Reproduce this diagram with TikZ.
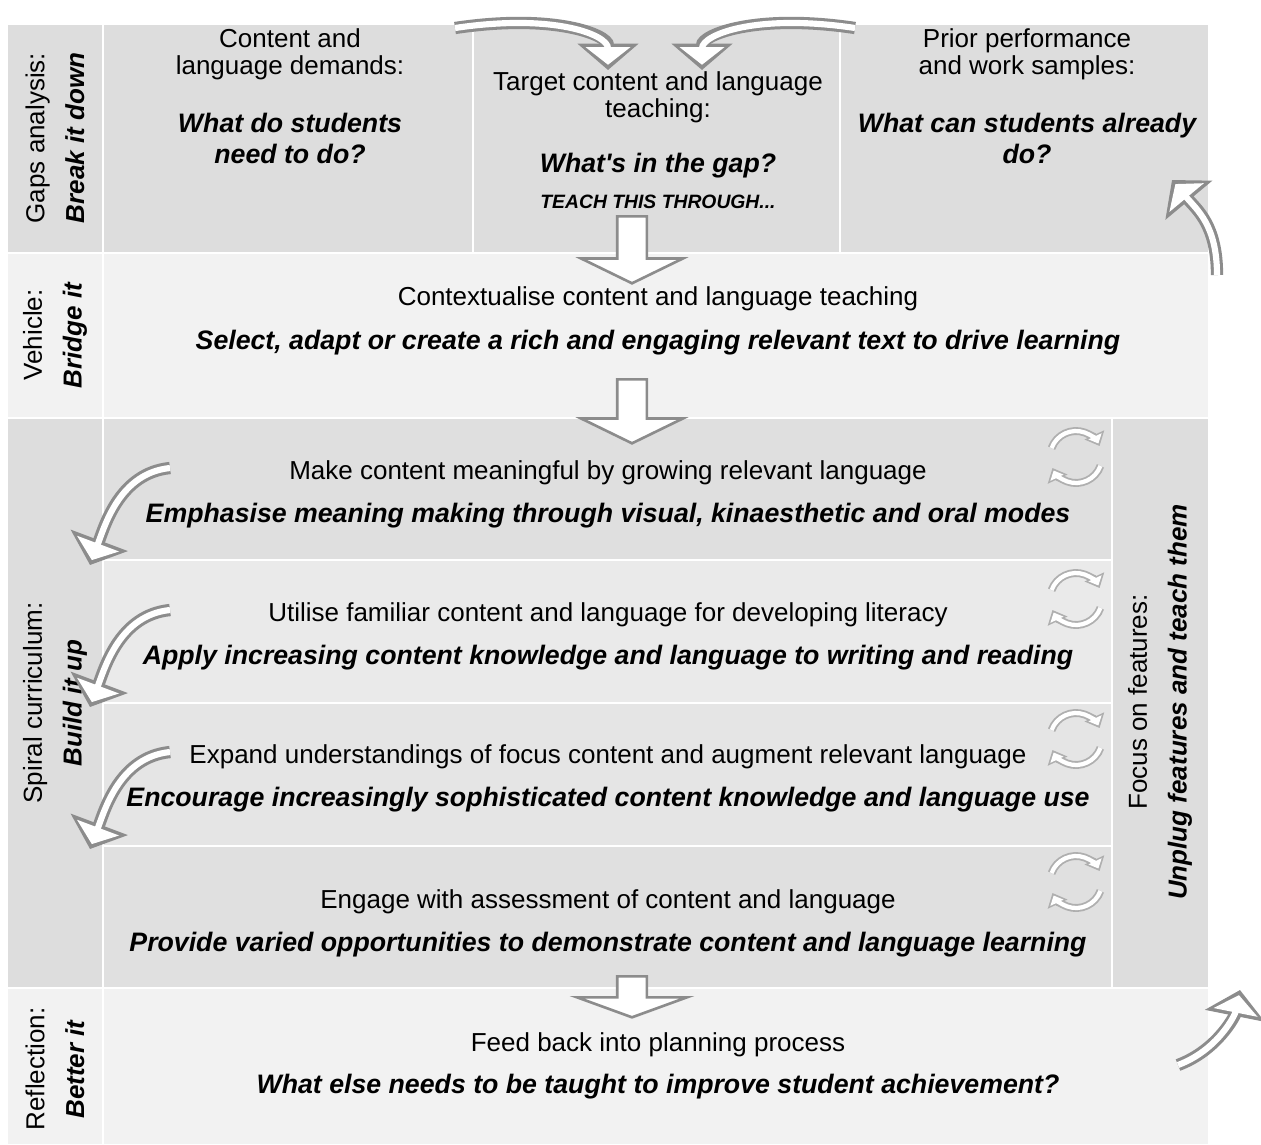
\documentclass[tikz,border=0pt]{standalone}
\usepackage{fontspec}
\setmainfont{Liberation Sans}
\usetikzlibrary{positioning}
\usetikzlibrary{shapes.arrows}
\usetikzlibrary{arrows.meta}

\definecolor{gapgray}{HTML}{DDDDDD}
\definecolor{lightrow}{HTML}{F2F2F2}
\definecolor{rowa}{HTML}{DFDFDF}
\definecolor{rowb}{HTML}{EAEAEA}
\definecolor{rowc}{HTML}{E5E5E5}
\definecolor{rowd}{HTML}{E0E0E0}
\definecolor{rimgray}{HTML}{8C8C8C}

\tikzset{
  rim/.style    = {draw=rimgray, line width=7pt, -{Triangle[width=34pt,length=15pt]}},
  core/.style   = {draw=white, line width=3.5pt, shorten >=3pt, -{Triangle[width=25pt,length=10pt]}},
  thinrim/.style  = {draw=rimgray!70, line width=4.5pt, -{Triangle[width=12pt,length=7pt]}},
  thincore/.style = {draw=white, line width=2.4pt, shorten >=1.6pt, -{Triangle[width=8pt,length=4.5pt]}},
}

\newcommand{\bentarrow}[4]{%
  \draw[rim]  (#1) .. controls +(#2) and +(#3) .. (#4);
  \draw[core] (#1) .. controls +(#2) and +(#3) .. (#4);}

\begin{document}
\begin{tikzpicture}
  [
    x=0.02cm, y=-0.02cm,
    every node/.style={inner sep=0pt},
    plain/.style = {font=\fontsize{14.8}{15.3}\selectfont, align=center},
    ask/.style   = {font=\fontsize{15.2}{17.6}\selectfont\bfseries\itshape, align=center},
    tag/.style   = {font=\fontsize{11}{13}\selectfont\bfseries\itshape},
    side/.style  = {rotate=90, align=center, font=\fontsize{14.8}{22.7}\selectfont},
    grid/.style  = {draw=white, line width=1.2pt},
    blockarr/.style = {single arrow, draw=rimgray, fill=white, line width=1.5pt,
      rotate=-90, anchor=tail, inner xsep=0pt, inner ysep=0.27cm,
      single arrow head extend=0.72cm, single arrow tip angle=128},
  ]

  \useasboundingbox (0,0) rectangle (1261,1144);
  \fill[white] (0,0) rectangle (1261,1144);

  % the cells
  \fill[gapgray]  (8,25) rectangle (1208,253);
  \fill[lightrow] (8,253) rectangle (1208,418);
  \fill[gapgray]  (8,418) rectangle (103,988);
  \fill[rowa]     (103,418) rectangle (1112,560);
  \fill[rowb]     (103,560) rectangle (1112,703);
  \fill[rowc]     (103,703) rectangle (1112,846);
  \fill[rowd]     (103,846) rectangle (1112,988);
  \fill[gapgray]  (1112,418) rectangle (1208,988);
  \fill[lightrow] (8,988) rectangle (1208,1144);

  \draw[grid] (103,25) -- (103,1144);
  \draw[grid] (473,25) -- (473,253);
  \draw[grid] (840,25) -- (840,253);
  \draw[grid] (1112,418) -- (1112,988);
  \draw[grid] (8,253) -- (1208,253);
  \draw[grid] (8,418) -- (1208,418);
  \foreach \yy in {560,703,846} \draw[grid] (103,\yy) -- (1112,\yy);
  \draw[grid] (8,988) -- (1208,988);

  % side labels
  \node[side] (gaps)    at (55,138)  {Gaps analysis:\\\textbf{\textit{Break it down}}};
  \node[side] (vehicle) at (55,335)  {Vehicle:\\\textbf{\textit{Bridge it}}};
  \node[side] (spiral)  at (55,703)  {Spiral curriculum:\\\textbf{\textit{Build it up}}};
  \node[side] (reflect) at (55,1069) {Reflection:\\\textbf{\textit{Better it}}};
  \node[side] (focus)   at (1160,702) {Focus on features:\\\textbf{\textit{Unplug features and teach them}}};

  % gaps analysis
  \node[plain] (demand) at (290,54)  {Content and\\language demands:};
  \node[ask]   (need)   at (290,138) {What do students\\need to do?};
  \node[plain] (target) at (658,97)  {Target content and language\\teaching:};
  \node[ask]   (gap)    at (658,166) {What\textquotesingle s in the gap?};
  \node[tag]   (teach)  at (658,202) {TEACH THIS THROUGH...};
  \node[plain] (prior)  at (1027,54)  {Prior performance\\and work samples:};
  \node[ask]   (can)    at (1027,138) {What can students already\\do?};

  % vehicle
  \node[plain] (context) at (658,299) {Contextualise content and language teaching};
  \node[ask]   (select)  at (658,343) {Select, adapt or create a rich and engaging relevant text to drive learning};

  % spiral curriculum
  \node[plain] (mean)   at (608,473) {Make content meaningful by growing relevant language};
  \node[ask]   (modes)  at (608,516) {Emphasise meaning making through visual, kinaesthetic and oral modes};
  \node[plain] (util)   at (608,615) {Utilise familiar content and language for developing literacy};
  \node[ask]   (apply)  at (608,658) {Apply increasing content knowledge and language to writing and reading};
  \node[plain] (expand) at (608,757) {Expand understandings of focus content and augment relevant language};
  \node[ask]   (soph)   at (608,800) {Encourage increasingly sophisticated content knowledge and language use};
  \node[plain] (engage) at (608,902) {Engage with assessment of content and language};
  \node[ask]   (varied) at (608,945) {Provide varied opportunities to demonstrate content and language learning};

  % reflection
  \node[plain] (feed)    at (658,1045) {Feed back into planning process};
  \node[ask]   (improve) at (658,1087) {What else needs to be taught to improve student achievement?};

  % block arrows down the middle
  \node[blockarr, minimum height=1.34cm] (down1) at (632,215) {};
  \node[blockarr, minimum height=1.28cm] (down2) at (632,378) {};
  \node[blockarr, minimum height=0.82cm, single arrow tip angle=140,
        single arrow head extend=0.8cm] (down3) at (632,975) {};

  % bent arrows
  \coordinate (tlin)  at (455,28);   \coordinate (tlout) at (608,70);
  \coordinate (trin)  at (855,28);   \coordinate (trout) at (702,70);
  \coordinate (rupin) at (1217,275); \coordinate (rupout) at (1172,180);
  \coordinate (rlowin) at (1178,1065); \coordinate (rlowout) at (1240,990);
  \bentarrow{tlin}{100,-15}{0,-35}{tlout}
  \bentarrow{trin}{-100,-15}{0,-35}{trout}
  \bentarrow{rupin}{0,-50}{25,30}{rupout}
  \bentarrow{rlowin}{40,-15}{-5,25}{rlowout}

  \foreach \i/\yy in {1/468,2/610,3/752} {
    \coordinate (spin\i)  at (170,\yy);
    \coordinate (spout\i) at (90,\yy+97);
    \bentarrow{spin\i}{-50,5}{15,-40}{spout\i}
  }

  % small cycle arrows
  \foreach \i/\yy in {1/457,2/599,3/739,4/882} {
    \coordinate (cyc\i) at (1076,\yy);
    \draw[thinrim]  (cyc\i) ++(200:26) arc (200:335:26);
    \draw[thincore] (cyc\i) ++(200:26) arc (200:335:26);
    \draw[thinrim]  (cyc\i) ++(20:26) arc (20:155:26);
    \draw[thincore] (cyc\i) ++(20:26) arc (20:155:26);
  }
\end{tikzpicture}
\end{document}
